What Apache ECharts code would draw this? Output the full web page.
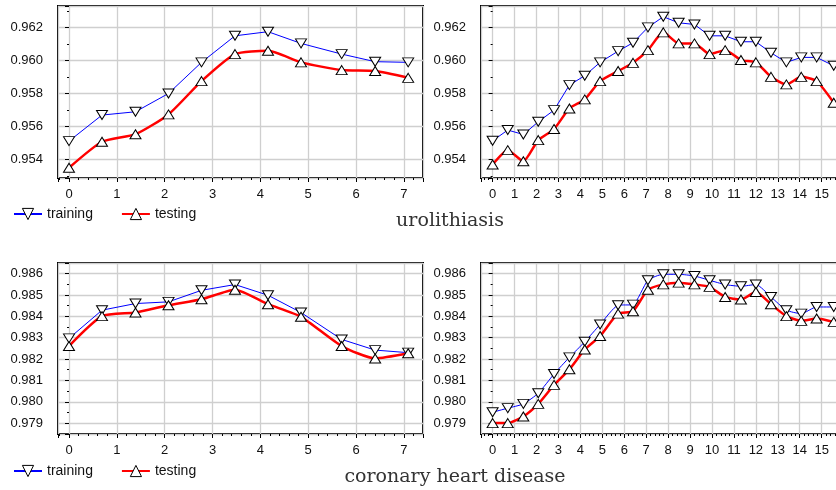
<!DOCTYPE html>
<html>
<head>
<meta charset="utf-8">
<script src="https://cdn.jsdelivr.net/npm/echarts@6/dist/echarts.min.js"></script>
<style>
  html, body { margin: 0; padding: 0; background: #fff; }
  #chart { width: 836px; height: 490px; }
</style>
</head>
<body>
<div id="chart"></div>
<script>
// x positions (short runs and long runs)
const xShort = [0, 0.69, 1.39, 2.08, 2.77, 3.47, 4.16, 4.85, 5.70, 6.40, 7.09];
const xLong = [0, 0.69, 1.4, 2.08, 2.8, 3.5, 4.2, 4.9, 5.72, 6.4, 7.08, 7.78, 8.48, 9.2, 9.89, 10.6, 11.32, 12.0, 12.69, 13.39, 14.07, 14.77, 15.55];

// urolithiasis
const uroShortTrain = [0.95512, 0.95670, 0.95690, 0.95801, 0.95990, 0.96151, 0.96176, 0.96105, 0.96040, 0.95994, 0.95990];
const uroShortTest = [0.95350, 0.95508, 0.95554, 0.95674, 0.95876, 0.96040, 0.96060, 0.95990, 0.95943, 0.95937, 0.95896];
const uroLongTrain = [0.95514, 0.95579, 0.95552, 0.95629, 0.95700, 0.95852, 0.95909, 0.95990, 0.96058, 0.96109, 0.96202, 0.96267, 0.96230, 0.96220, 0.96151, 0.96151, 0.96115, 0.96115, 0.96048, 0.95990, 0.96020, 0.96020, 0.95969];
const uroLongTest = [0.95370, 0.95457, 0.95390, 0.95518, 0.95585, 0.95710, 0.95765, 0.95876, 0.95937, 0.95987, 0.96064, 0.96172, 0.96105, 0.96105, 0.96040, 0.96064, 0.96004, 0.95990, 0.95902, 0.95856, 0.95902, 0.95876, 0.95745];

// coronary heart disease
const chdShortTrain = [0.98297, 0.98429, 0.98460, 0.98468, 0.98522, 0.98549, 0.98499, 0.98418, 0.98292, 0.98242, 0.98230];
const chdShortTest = [0.98261, 0.98401, 0.98418, 0.98452, 0.98480, 0.98525, 0.98457, 0.98398, 0.98261, 0.98203, 0.98227];
const chdLongTrain = [0.97951, 0.97970, 0.97990, 0.98040, 0.98130, 0.98208, 0.98281, 0.98362, 0.98452, 0.98455, 0.98569, 0.98597, 0.98597, 0.98589, 0.98569, 0.98549, 0.98541, 0.98549, 0.98491, 0.98429, 0.98413, 0.98444, 0.98444];
const chdLongTest = [0.97900, 0.97900, 0.97931, 0.97990, 0.98079, 0.98152, 0.98245, 0.98308, 0.98413, 0.98424, 0.98525, 0.98550, 0.98558, 0.98550, 0.98538, 0.98491, 0.98479, 0.98514, 0.98457, 0.98401, 0.98379, 0.98390, 0.98374];

const panelNames = ['urolithiasis', 'coronary heart disease'];

var chartDom = document.getElementById('chart');
var myChart = echarts.init(chartDom);

const FONT = 'Liberation Sans';
const pair = (xs, ys) => xs.map((x, i) => [x, ys[i]]);

// y step for label check
const yStep = [0.002, 0.002, 0.001, 0.001];
const grids = [
  { left: 58, top: 6, width: 365, height: 172 },
  { left: 481, top: 6, width: 367, height: 172 },
  { left: 58, top: 263, width: 365, height: 171 },
  { left: 481, top: 263, width: 367, height: 171 }
];
const xRanges = [[-0.23, 7.40, 8], [-0.53, 16.2, 16], [-0.23, 7.40, 8], [-0.53, 16.2, 16]];
const yRanges = [[0.95288, 0.96332, 5], [0.95288, 0.96332, 5], [0.97849, 0.9865, 8], [0.97849, 0.9865, 8]];

const makeX = (i) => ({
  type: 'value', gridIndex: i,
  min: xRanges[i][0], max: xRanges[i][1], splitNumber: xRanges[i][2],
  axisLine: { show: false },
  axisTick: { show: true, length: 4, lineStyle: { color: '#000' } },
  minorTick: { show: true, splitNumber: 5, length: 2, lineStyle: { color: '#000' } },
  splitLine: { show: true, lineStyle: { color: '#cfcfcf', width: 1.3 } },
  axisLabel: {
    margin: 10, fontFamily: FONT, fontSize: 13, color: '#111',
    formatter: (v) => Math.abs(v - Math.round(v)) < 1e-6 ? String(Math.round(v)) : ''
  }
});
const makeY = (i) => ({
  type: 'value', gridIndex: i,
  min: yRanges[i][0], max: yRanges[i][1], splitNumber: yRanges[i][2],
  axisLine: { show: false },
  axisTick: { show: true, length: 4, lineStyle: { color: '#000' } },
  minorTick: { show: true, splitNumber: 2, length: 2, lineStyle: { color: '#000' } },
  splitLine: { show: true, lineStyle: { color: '#cfcfcf', width: 1.3 } },
  axisLabel: {
    margin: 15, fontFamily: FONT, fontSize: 13, color: '#111',
    formatter: (v) => {
      const k = v / yStep[i];
      return Math.abs(k - Math.round(k)) < 1e-4 ? v.toFixed(3) : '';
    }
  }
});

const trainSeries = (i, xs, ys, smooth) => ({
  name: 'training', type: 'line', xAxisIndex: i, yAxisIndex: i,
  data: pair(xs, ys), smooth: smooth,
  symbol: 'triangle', symbolRotate: 180, symbolSize: [11, 9],
  lineStyle: { color: '#0000ff', width: 1 },
  itemStyle: { color: '#fff', borderColor: '#000', borderWidth: 1 },
  color: '#0000ff',
  clip: false, animation: false
});
const testSeries = (i, xs, ys, smooth) => ({
  name: 'testing', type: 'line', xAxisIndex: i, yAxisIndex: i,
  data: pair(xs, ys), smooth: smooth,
  symbol: 'triangle', symbolSize: [11, 9],
  lineStyle: { color: '#ff0000', width: 2.5 },
  itemStyle: { color: '#fff', borderColor: '#000', borderWidth: 1 },
  color: '#ff0000',
  clip: false, animation: false
});

const legendMark = { color: '#fff', borderColor: '#000', borderWidth: 1 };
const makeLegend = (top) => ({
  left: 13, top: top, padding: 0, itemGap: 28,
  itemWidth: 28, itemHeight: 14,
  data: [
    { name: 'training', itemStyle: legendMark },
    { name: 'testing', itemStyle: legendMark }
  ],
  textStyle: { fontFamily: FONT, fontSize: 14, color: '#111' }
});

var option = {
  backgroundColor: '#fff',
  animation: false,
  grid: grids.map(g => Object.assign({
    show: true, borderColor: '#000', borderWidth: 2, backgroundColor: 'transparent',
    containLabel: false, outerBoundsMode: 'none'
  }, g)),
  xAxis: [0, 1, 2, 3].map(makeX),
  yAxis: [0, 1, 2, 3].map(makeY),
  legend: [makeLegend(207), makeLegend(464)],
  series: [
    trainSeries(0, xShort, uroShortTrain, false),
    testSeries(0, xShort, uroShortTest, 0.2),
    trainSeries(1, xLong, uroLongTrain, false),
    testSeries(1, xLong, uroLongTest, 0.2),
    trainSeries(2, xShort, chdShortTrain, false),
    testSeries(2, xShort, chdShortTest, 0.2),
    trainSeries(3, xLong, chdLongTrain, 0.2),
    testSeries(3, xLong, chdLongTest, 0.2)
  ],
  graphic: [
    { type: 'text', x: 450, y: 221, style: { text: panelNames[0], textAlign: 'center', textVerticalAlign: 'middle', font: '19px "DejaVu Serif"', fill: '#333' } },
    { type: 'text', x: 455, y: 477, style: { text: panelNames[1], textAlign: 'center', textVerticalAlign: 'middle', font: '19px "DejaVu Serif"', fill: '#333' } }
  ]
};
option && myChart.setOption(option);
</script>
</body>
</html>
